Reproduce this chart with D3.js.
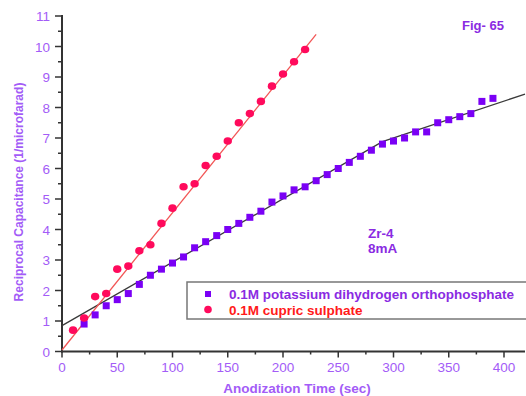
<!DOCTYPE html>
<html><head><meta charset="utf-8">
<script src="https://cdn.jsdelivr.net/npm/d3@7/dist/d3.min.js"></script>
<style>
html,body{margin:0;padding:0;background:#fff;}
svg{display:block;font-family:"Liberation Sans",Arial,sans-serif;}
</style></head>
<body><svg id="chart" width="526" height="396"></svg>
<script>
// ---- data ----
const potassiumTime = [20,30,40,50,60,70,80,90,100,110,120,130,140,150,160,170,180,190,200,210,220,230,240,250,260,270,280,290,300,310,320,330,340,350,360,370,380,390];
const potassiumValue = [0.9,1.2,1.5,1.7,1.9,2.2,2.5,2.7,2.9,3.1,3.4,3.6,3.8,4.0,4.2,4.4,4.6,4.9,5.1,5.3,5.4,5.6,5.8,6.0,6.2,6.4,6.6,6.8,6.9,7.0,7.2,7.2,7.5,7.6,7.7,7.8,8.2,8.3];
const cupricTime = [10,20,30,40,50,60,70,80,90,100,110,120,130,140,150,160,170,180,190,200,210,220];
const cupricValue = [0.7,1.1,1.8,1.9,2.7,2.8,3.3,3.5,4.2,4.7,5.4,5.5,6.1,6.4,6.9,7.5,7.8,8.2,8.7,9.1,9.5,9.9];
const potassiumFitTime = [0,290,419];
const potassiumFitValue = [0.85,6.88,8.44];
const cupricFitTime = [0,230];
const cupricFitValue = [0.05,10.4];
const xTickValues = [0,50,100,150,200,250,300,350,400];
const yTickValues = [0,1,2,3,4,5,6,7,8,9,10,11];
const legendLabels = ["0.1M potassium dihydrogen orthophosphate","0.1M cupric sulphate"];

const labelPurple = "#a35cf7";
const sqColor = "#7a00f5";
const ciColor = "#ff0a5c";

const svg = d3.select("#chart");
const x = d3.scaleLinear().domain([0,400]).range([62,504]);
const y = d3.scaleLinear().domain([0,11]).range([351.5,16]);
const xMax = 419;

// axes
const xAxisG = svg.append("g").attr("transform",`translate(0,${y(0)})`);
const xMinor = d3.range(25,xMax,50);
xAxisG.selectAll("line.minor").data(xMinor).join("line")
  .attr("x1",d=>x(d)).attr("x2",d=>x(d)).attr("y1",0).attr("y2",3)
  .attr("stroke","#333").attr("stroke-width",1.5);
xAxisG.selectAll("line.major").data(xTickValues).join("line")
  .attr("x1",d=>x(d)).attr("x2",d=>x(d)).attr("y1",0).attr("y2",6)
  .attr("stroke","#333").attr("stroke-width",1.5);
xAxisG.append("line").attr("x1",x(0)-1).attr("x2",x(xMax)).attr("y1",0).attr("y2",0)
  .attr("stroke","#333").attr("stroke-width",2);
xAxisG.selectAll("text").data(xTickValues).join("text")
  .attr("x",d=>x(d)).attr("y",20).attr("text-anchor","middle")
  .attr("font-size",13.5).attr("fill",labelPurple).text(d=>d);

const yAxisG = svg.append("g").attr("transform",`translate(${x(0)},0)`);
const yMinor = d3.range(0.5,11,1);
yAxisG.selectAll("line.minor").data(yMinor).join("line")
  .attr("y1",d=>y(d)).attr("y2",d=>y(d)).attr("x1",0).attr("x2",-4)
  .attr("stroke","#333").attr("stroke-width",1.5);
yAxisG.selectAll("line.major").data(yTickValues).join("line")
  .attr("y1",d=>y(d)).attr("y2",d=>y(d)).attr("x1",0).attr("x2",-7)
  .attr("stroke","#333").attr("stroke-width",1.5);
yAxisG.append("line").attr("x1",0).attr("x2",0).attr("y1",y(11)-1).attr("y2",y(0)+1)
  .attr("stroke","#333").attr("stroke-width",2);
yAxisG.selectAll("text").data(yTickValues).join("text")
  .attr("x",-12).attr("y",d=>y(d)+5).attr("text-anchor","end")
  .attr("font-size",13.5).attr("fill",labelPurple).text(d=>d);

// titles
svg.append("text").attr("x",297).attr("y",393).attr("text-anchor","middle")
  .attr("font-size",13.5).attr("font-weight","bold").attr("fill",labelPurple)
  .text("Anodization Time (sec)");
svg.append("text").attr("transform","translate(23,192) rotate(-90)").attr("text-anchor","middle")
  .attr("font-size",12).attr("font-weight","bold").attr("fill",labelPurple)
  .text("Reciprocal Capacitance (1/microfarad)");

// fit lines
const line = d3.line().x(d=>x(d[0])).y(d=>y(d[1]));
svg.append("path").datum(d3.zip(potassiumFitTime,potassiumFitValue))
  .attr("d",line).attr("fill","none").attr("stroke","#3a3a3a").attr("stroke-width",1.3);
svg.append("path").datum(d3.zip(cupricFitTime,cupricFitValue))
  .attr("d",line).attr("fill","none").attr("stroke","#f25555").attr("stroke-width",1.3);

// points
const s = 7;
svg.selectAll("rect.pt").data(d3.zip(potassiumTime,potassiumValue)).join("rect")
  .attr("x",d=>x(d[0])-s/2).attr("y",d=>y(d[1])-s/2).attr("width",s).attr("height",s)
  .attr("fill",sqColor);
svg.selectAll("ellipse.pt").data(d3.zip(cupricTime,cupricValue)).join("ellipse")
  .attr("cx",d=>x(d[0])).attr("cy",d=>y(d[1])).attr("rx",4.2).attr("ry",3.8)
  .attr("fill",ciColor);

// annotations
svg.append("text").attr("x",369).attr("y",238).attr("font-size",13.5).attr("font-weight","bold")
  .attr("fill","#8a2be2").attr("text-anchor","start").attr("dx",-1).text("Zr-4");
svg.append("text").attr("x",369).attr("y",253).attr("font-size",13.5).attr("font-weight","bold")
  .attr("fill","#8a2be2").attr("text-anchor","start").attr("dx",-1).text("8mA");
svg.append("text").attr("x",483).attr("y",30).attr("font-size",13).attr("font-weight","bold")
  .attr("fill","#8a2be2").attr("text-anchor","middle").text("Fig- 65");

// legend
const lg = svg.append("g");
lg.append("rect").attr("x",187).attr("y",282).attr("width",340).attr("height",37)
  .attr("fill","#fff").attr("stroke","#777").attr("stroke-width",1.5);
lg.append("rect").attr("x",205).attr("y",291).attr("width",6).attr("height",6).attr("fill",sqColor);
lg.append("circle").attr("cx",208).attr("cy",309.5).attr("r",3.8).attr("fill",ciColor);
lg.append("text").attr("x",229).attr("y",299).attr("font-size",13.5).attr("font-weight","bold")
  .attr("fill","#8a2be2").text(legendLabels[0]);
lg.append("text").attr("x",229).attr("y",314.5).attr("font-size",13.5).attr("font-weight","bold")
  .attr("fill","#ff1a1a").text(legendLabels[1]);
</script></body></html>
